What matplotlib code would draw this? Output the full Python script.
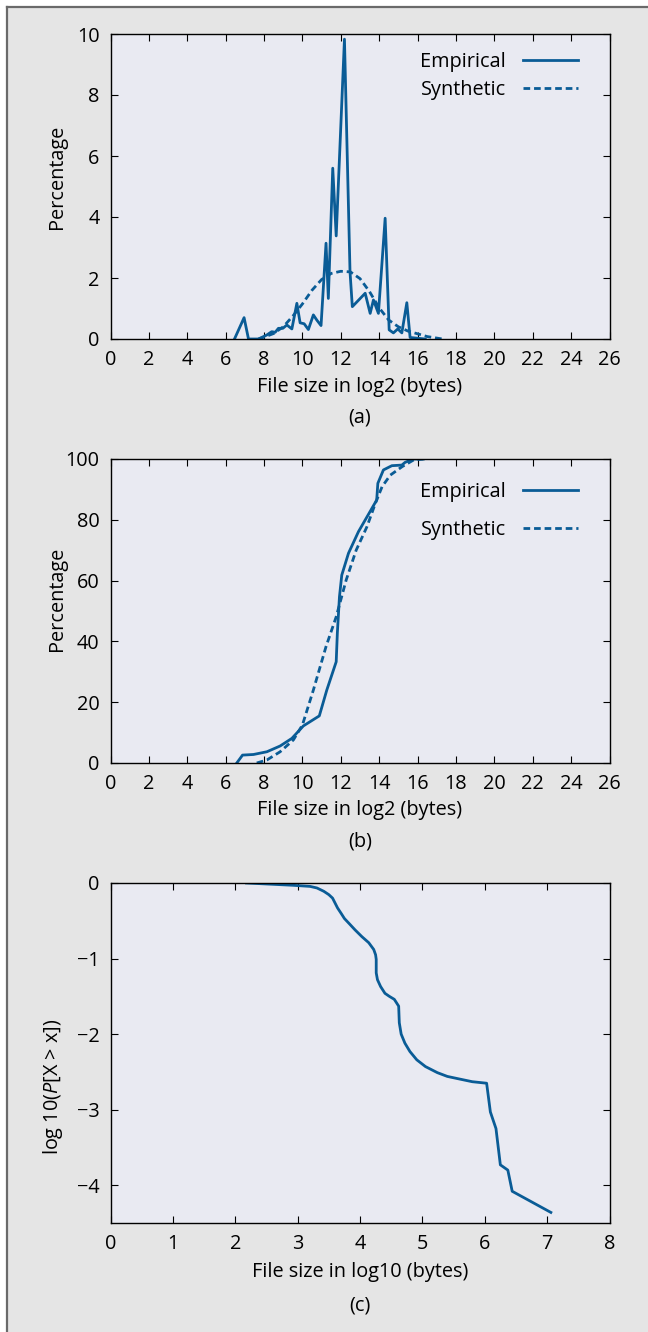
import matplotlib
matplotlib.use('Agg')
import matplotlib.pyplot as plt
from matplotlib.lines import Line2D
from matplotlib.patches import Rectangle

plt.rcParams['font.family'] = ['Open Sans', 'DejaVu Sans']
plt.rcParams['mathtext.fontset'] = 'custom'
plt.rcParams['mathtext.rm'] = 'Open Sans'
plt.rcParams['mathtext.it'] = 'Open Sans:italic'

# (a) histogram of file sizes, log2 bins
pdf_emp_x = [6.46, 6.96, 7.19, 7.71, 8.14, 8.40, 8.58, 8.75, 8.98, 9.19, 9.45, 9.71, 9.88,
             10.09, 10.31, 10.57, 10.75, 10.97, 11.23, 11.35, 11.58, 11.76, 12.19, 12.48,
             12.60, 13.27, 13.53, 13.70, 13.96, 14.31, 14.52, 14.74, 14.97, 15.18, 15.44,
             15.61, 16.40]
pdf_emp_y = [0, 0.7, 0, 0, 0.13, 0.24, 0.22, 0.35, 0.35, 0.46, 0.33, 1.17, 0.53,
             0.5, 0.31, 0.79, 0.62, 0.44, 3.14, 1.33, 5.6, 3.38, 9.83, 2.2,
             1.06, 1.5, 0.84, 1.28, 0.84, 3.96, 0.3, 0.2, 0.33, 0.2, 1.19,
             0.05, 0]
pdf_syn_x = [7.7, 8.0, 8.5, 9.0, 9.5, 10.0, 10.5, 11.0, 11.5, 12.0, 12.5, 13.0, 13.5,
             14.0, 14.5, 15.0, 15.5, 16.0, 16.5, 17.0, 17.3]
pdf_syn_y = [0, 0.06, 0.18, 0.4, 0.75, 1.15, 1.6, 1.95, 2.15, 2.22, 2.2, 1.98, 1.55,
             1.02, 0.62, 0.4, 0.26, 0.17, 0.08, 0.03, 0]

# (b) cumulative
cdf_emp_x = [6.58, 6.88, 7.45, 8.15, 8.84, 9.45, 10.05, 10.88, 11.27, 11.76, 11.82, 11.93,
             12.05, 12.40, 12.92, 13.87, 13.93, 14.22, 14.66, 15.18, 15.35, 15.78, 16.3]
cdf_emp_y = [0, 2.6, 2.8, 3.7, 5.6, 8.1, 12.2, 15.5, 24, 33.3, 42.8, 54.7,
             61.8, 69, 76.1, 86.5, 92, 96.4, 97.8, 98, 98.9, 100, 100]
cdf_syn_x = [7.62, 8.15, 8.84, 9.53, 10.0, 10.57, 11.23, 11.76, 12.28, 12.80, 13.36, 13.80,
             14.15, 14.58, 15.20, 15.80, 16.30]
cdf_syn_y = [0, 1.0, 3.7, 7.6, 12.5, 24, 38.3, 48.1, 60.2, 70, 77.7, 85.4,
             90.9, 94.7, 97.5, 99.7, 100]

# (c) complementary cdf, log10
ccdf_x = [2.18, 2.92, 3.20, 3.31, 3.42, 3.50, 3.56, 3.60, 3.64, 3.70, 3.75, 3.83, 3.92,
          4.03, 4.14, 4.22, 4.25, 4.26, 4.26, 4.28, 4.33, 4.40, 4.47, 4.55, 4.62, 4.63,
          4.66, 4.72, 4.80, 4.91, 5.05, 5.24, 5.40, 5.57, 5.80, 6.03,
          6.09, 6.18, 6.25, 6.37, 6.44, 7.06]
ccdf_y = [0, -0.03, -0.045, -0.066, -0.11, -0.154, -0.2, -0.265, -0.33, -0.405, -0.47, -0.54, -0.62,
          -0.71, -0.79, -0.88, -0.95, -1.01, -1.19, -1.28, -1.37, -1.46, -1.5, -1.54, -1.63, -1.85,
          -2.0, -2.12, -2.23, -2.34, -2.43, -2.51, -2.56, -2.59, -2.63, -2.65,
          -3.03, -3.25, -3.73, -3.8, -4.08, -4.36]

log2_ticks = list(range(0, 27, 2))
line_col = '#0a5c96'
fs = 14.3
lw = 2.0
dash = (2.4, 1.4)

W, H = 648, 1332
fig = plt.figure(figsize=(W / 100, H / 100), dpi=100, facecolor='#e5e5e5')

# white margin + dark frame line at top/left
fig.patches.append(Rectangle((0, 1 - 6 / H), 1, 6 / H, transform=fig.transFigure, color='white', zorder=0))
fig.patches.append(Rectangle((0, 0), 6 / W, 1, transform=fig.transFigure, color='white', zorder=0))
fig.add_artist(Line2D([7 / W, 1], [1 - 7 / H, 1 - 7 / H], transform=fig.transFigure, color='#6a6a6a', lw=1.6))
fig.add_artist(Line2D([7 / W, 7 / W], [0, 1 - 7 / H], transform=fig.transFigure, color='#6a6a6a', lw=1.6))

ax_a = fig.add_axes([110.5 / W, 1 - 339 / H, 499 / W, 305 / H])
ax_b = fig.add_axes([110.5 / W, 1 - 763 / H, 499 / W, 304 / H])
ax_c = fig.add_axes([110.5 / W, 1 - 1223 / H, 499 / W, 340 / H])


def style(ax):
    ax.set_facecolor('#e9eaf2')
    for s in ax.spines.values():
        s.set_linewidth(1.0)
        s.set_color('black')
    ax.tick_params(direction='in', top=True, right=True, length=5, width=0.8, pad=8, labelsize=fs)


ax_a.plot(pdf_emp_x, pdf_emp_y, color=line_col, lw=lw, label='Empirical')
ax_a.plot(pdf_syn_x, pdf_syn_y, color=line_col, lw=lw, dashes=dash, label='Synthetic')
ax_a.set_xlim(0, 26)
ax_a.set_ylim(0, 10)
ax_a.set_xticks(log2_ticks)
ax_a.set_yticks(range(0, 11, 2))
style(ax_a)
ax_a.set_ylabel('Percentage', fontsize=fs)
ax_a.yaxis.set_label_coords(-0.087, 0.53)
ax_a.set_xlabel('File size in log2 (bytes)', fontsize=fs)
ax_a.xaxis.set_label_coords(0.5, -0.123)
ax_a.text(0.5, -0.257, '(a)', transform=ax_a.transAxes, ha='center', va='center', fontsize=fs)
ax_a.legend(loc='upper right', bbox_to_anchor=(0.936, 0.94), frameon=False, markerfirst=False,
            handlelength=2.75, handletextpad=0.85, labelspacing=0.38, borderaxespad=0, borderpad=0,
            fontsize=fs)

ax_b.plot(cdf_emp_x, cdf_emp_y, color=line_col, lw=lw, label='Empirical')
ax_b.plot(cdf_syn_x, cdf_syn_y, color=line_col, lw=lw, dashes=dash, label='Synthetic')
ax_b.set_xlim(0, 26)
ax_b.set_ylim(0, 100)
ax_b.set_xticks(log2_ticks)
ax_b.set_yticks(range(0, 101, 20))
style(ax_b)
ax_b.set_ylabel('Percentage', fontsize=fs)
ax_b.yaxis.set_label_coords(-0.087, 0.54)
ax_b.set_xlabel('File size in log2 (bytes)', fontsize=fs)
ax_b.xaxis.set_label_coords(0.5, -0.123)
ax_b.text(0.5, -0.257, '(b)', transform=ax_b.transAxes, ha='center', va='center', fontsize=fs)
ax_b.legend(loc='upper right', bbox_to_anchor=(0.936, 0.924), frameon=False, markerfirst=False,
            handlelength=2.75, handletextpad=0.85, labelspacing=0.9, borderaxespad=0, borderpad=0,
            fontsize=fs)

ax_c.plot(ccdf_x, ccdf_y, color=line_col, lw=lw)
ax_c.set_xlim(0, 8)
ax_c.set_ylim(-4.5, 0)
ax_c.set_xticks(range(0, 9))
ax_c.set_yticks([0, -1, -2, -3, -4])
style(ax_c)
ax_c.set_ylabel(r'log 10($\mathit{P}$[X > x])', fontsize=fs)
ax_c.yaxis.set_label_coords(-0.092, 0.4)
ax_c.set_xlabel('File size in log10 (bytes)', fontsize=fs)
ax_c.xaxis.set_label_coords(0.5, -0.116)
ax_c.text(0.5, -0.244, '(c)', transform=ax_c.transAxes, ha='center', va='center', fontsize=fs)

fig.savefig('out.png', dpi=100, facecolor=fig.get_facecolor())
